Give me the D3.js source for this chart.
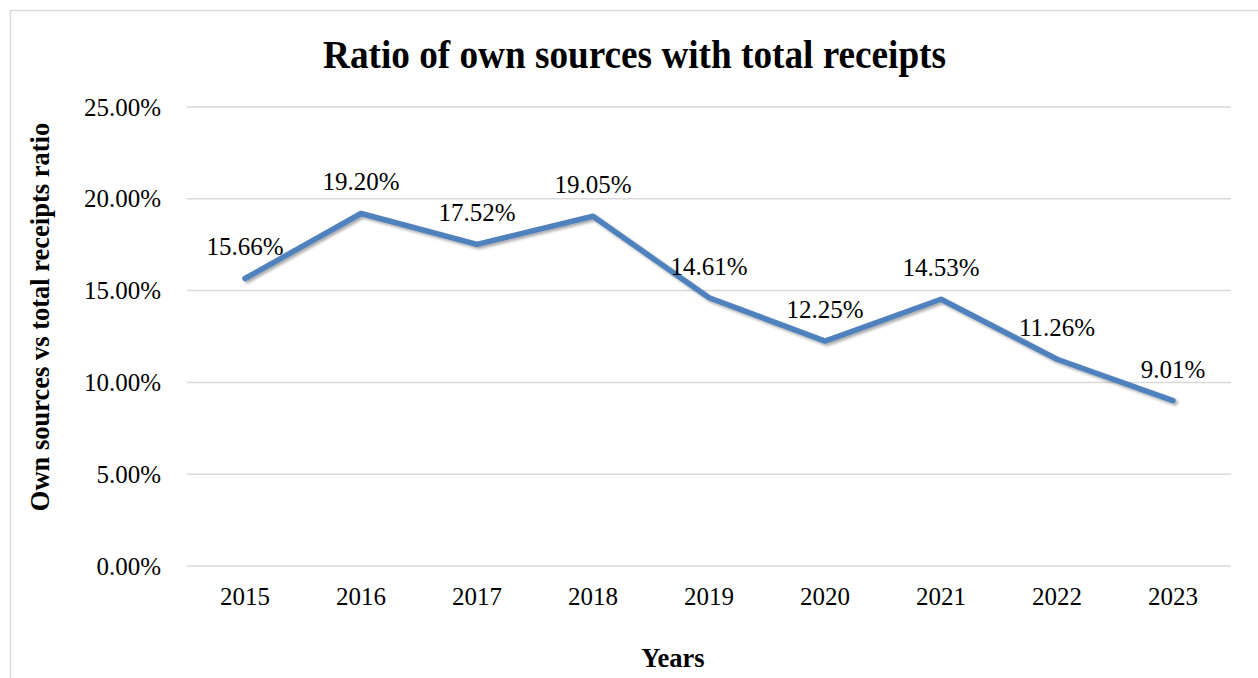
<!DOCTYPE html>
<html>
<head>
<meta charset="utf-8">
<script src="https://cdn.jsdelivr.net/npm/d3@7"></script>
<style>
  html, body { margin: 0; padding: 0; background: #fff; }
  svg { display: block; font-family: "Liberation Serif", "Times New Roman", serif; }
</style>
</head>
<body>
<svg id="chart" width="1258" height="678"></svg>
<script>
// Share of own sources in total receipts, by year
const years = ["2015", "2016", "2017", "2018", "2019", "2020", "2021", "2022", "2023"];
const ratios = [15.66, 19.20, 17.52, 19.05, 14.61, 12.25, 14.53, 11.26, 9.01];
const yTicks = [0, 5, 10, 15, 20, 25];

const svg = d3.select("#chart");
const W = 1258, H = 678;
const margin = { left: 187, right: 27, top: 107, bottom: 112 };
const serif = "Liberation Serif, Times New Roman, serif";

// outer chart frame
svg.append("rect")
  .attr("x", 10.5).attr("y", 10.5)
  .attr("width", W + 20).attr("height", H + 20)
  .attr("fill", "#fff").attr("stroke", "#d9d9d9").attr("stroke-width", 1.5);

const x = d3.scaleBand().domain(years).range([margin.left, W - margin.right]);
const y = d3.scaleLinear().domain([0, 25]).range([H - margin.bottom, margin.top]);

// horizontal gridlines
svg.append("g")
  .selectAll("line")
  .data(yTicks)
  .join("line")
  .attr("x1", margin.left).attr("x2", W - margin.right)
  .attr("y1", d => y(d)).attr("y2", d => y(d))
  .attr("stroke", "#d9d9d9").attr("stroke-width", 1.5);

// y axis labels
const yAxis = d3.axisLeft(y).tickValues(yTicks).tickSize(0).tickPadding(26)
  .tickFormat(d => d3.format(".2f")(d) + "%");
svg.append("g")
  .attr("transform", `translate(${margin.left},0)`)
  .call(yAxis)
  .call(g => g.select(".domain").remove())
  .call(g => g.selectAll("text")
    .attr("font-family", serif)
    .attr("font-size", 25).attr("fill", "#000")
    .attr("dy", 8));

// x axis labels
const xAxis = d3.axisBottom(x).tickSize(0).tickPadding(0);
svg.append("g")
  .attr("transform", `translate(0,${y(0)})`)
  .call(xAxis)
  .call(g => g.select(".domain").remove())
  .call(g => g.selectAll("text")
    .attr("font-family", serif)
    .attr("font-size", 25).attr("fill", "#000")
    .attr("y", 39).attr("dy", 0));

// soft drop shadow beneath the series line
const defs = svg.append("defs");
const f = defs.append("filter").attr("id", "lineShadow")
  .attr("x", "-5%").attr("y", "-20%").attr("width", "110%").attr("height", "140%");
f.append("feGaussianBlur").attr("in", "SourceAlpha").attr("stdDeviation", 1.5).attr("result", "b");
f.append("feOffset").attr("in", "b").attr("dx", 1.5).attr("dy", 2).attr("result", "o");
f.append("feComponentTransfer").attr("in", "o").attr("result", "s")
  .append("feFuncA").attr("type", "linear").attr("slope", 0.35);
const m = f.append("feMerge");
m.append("feMergeNode").attr("in", "s");
m.append("feMergeNode").attr("in", "SourceGraphic");

const cx = d => x(d) + x.bandwidth() / 2;
const line = d3.line().x((d, i) => cx(years[i])).y(d => y(d));

svg.append("path")
  .datum(ratios)
  .attr("d", line)
  .attr("fill", "none")
  .attr("stroke", "#4f81bd")
  .attr("stroke-width", 5.5)
  .attr("stroke-linejoin", "round")
  .attr("stroke-linecap", "round")
  .attr("filter", "url(#lineShadow)");

// value labels above each point
svg.append("g")
  .selectAll("text")
  .data(ratios)
  .join("text")
  .attr("x", (d, i) => cx(years[i]))
  .attr("y", d => y(d) - 23)
  .attr("text-anchor", "middle")
  .attr("font-size", 25)
  .attr("fill", "#000")
  .text(d => d3.format(".2f")(d) + "%");

// chart title
svg.append("text")
  .attr("x", 634.5).attr("y", 68)
  .attr("text-anchor", "middle")
  .attr("font-size", 41).attr("font-weight", "bold")
  .attr("textLength", 623).attr("lengthAdjust", "spacingAndGlyphs")
  .text("Ratio of own sources with total receipts");

// axis titles
svg.append("text")
  .attr("transform", `translate(49,317) rotate(-90)`)
  .attr("text-anchor", "middle")
  .attr("font-size", 26.5).attr("font-weight", "bold")
  .text("Own sources vs total receipts ratio");

svg.append("text")
  .attr("x", 673).attr("y", 667)
  .attr("text-anchor", "middle")
  .attr("font-size", 26.5).attr("font-weight", "bold")
  .text("Years");
</script>
</body>
</html>
